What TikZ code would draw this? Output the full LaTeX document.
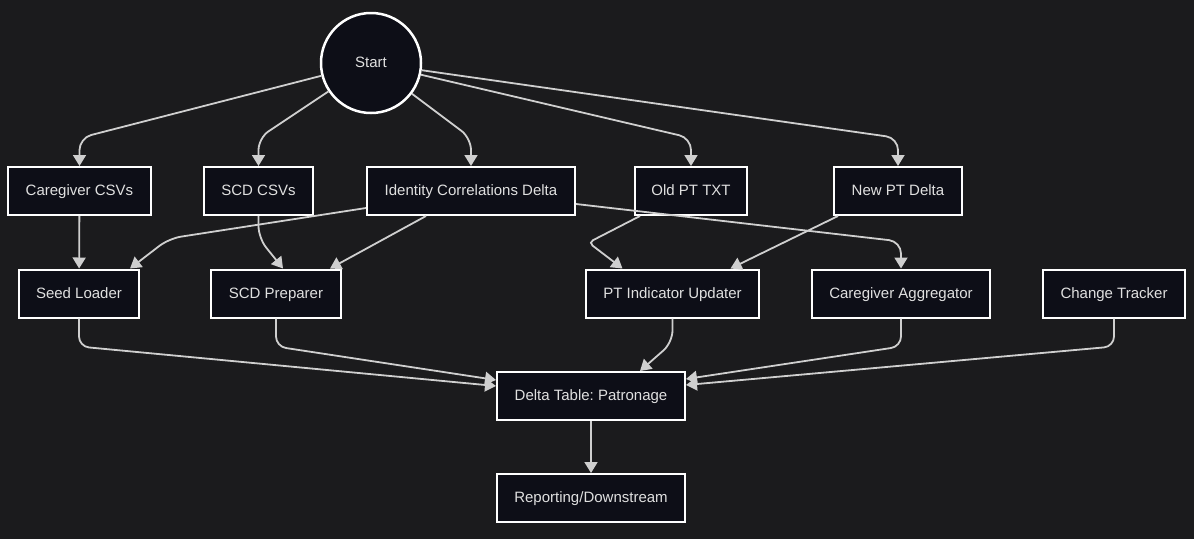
\documentclass[tikz,border=0pt]{standalone}
\usepackage{fontspec}
\setmainfont{Liberation Sans}
\usetikzlibrary{arrows.meta}
\definecolor{BG}{HTML}{1B1B1D}
\definecolor{NF}{HTML}{0D0E17}
\definecolor{LN}{HTML}{CFCFCF}
\definecolor{TX}{HTML}{E0E0E0}
\frenchspacing

\begin{document}
\begin{tikzpicture}[x=1pt,y=-1pt,
    box/.style={draw=white, line width=2pt, fill=NF, text=TX,
      minimum height=48pt, inner xsep=0pt, text height=11pt, text depth=2pt,
      font=\fontsize{15}{17}\selectfont},
    edge/.style={draw=LN, line width=1.8pt, rounded corners=12pt,
      -{Triangle[length=11pt,width=13pt]}}]
  \fill[BG] (0,0) rectangle (1194,539);
  % nodes
  \node[circle, draw=white, line width=2.5pt, fill=NF, text=TX, minimum size=100pt,
    text height=11pt, text depth=2pt, font=\fontsize{15}{17}\selectfont] (start) at (371,63) {Start};
  \node[box, minimum width=143pt] (cg) at (79.5,191) {Caregiver CSVs};
  \node[box, minimum width=109pt] (scd) at (258.5,191) {SCD CSVs};
  \node[box, minimum width=208pt] (ident) at (471,191) {Identity Correlations Delta};
  \node[box, minimum width=112pt] (oldpt) at (691,191) {Old PT TXT};
  \node[box, minimum width=128pt] (newpt) at (898,191) {New PT Delta};
  \node[box, minimum width=120pt] (seed) at (79,293.5) {Seed Loader};
  \node[box, minimum width=130pt] (scdprep) at (276,293.5) {SCD Preparer};
  \node[box, minimum width=173pt] (ptupd) at (672.5,293.5) {PT Indicator Updater};
  \node[box, minimum width=178pt] (cgagg) at (901,293.5) {Caregiver Aggregator};
  \node[box, minimum width=142pt] (ctrack) at (1114,293.5) {Change Tracker};
  \node[box, minimum width=188pt] (delta) at (591,396) {Delta Table: Patronage};
  \node[box, minimum width=188pt] (report) at (591,498) {Reporting/Downstream};
  % edges from start
  \foreach \n in {cg,scd,ident,oldpt,newpt}
    \draw[edge] (start) -- ([yshift=28pt]\n.north) -- (\n.north);
  % second row
  \draw[edge] (cg) -- (seed);
  \draw[edge] (scd.south) -- ([yshift=-22pt]scd.south) -- ([xshift=7pt]scdprep.north);
  \draw[edge] ([yshift=-17pt]ident.west) -- ([xshift=90pt,yshift=30pt]seed.north)
    -- ([xshift=51pt]seed.north);
  \draw[edge] ([xshift=-45pt]ident.south) -- ([xshift=54pt]scdprep.north);
  \draw[edge] ([yshift=-13pt]ident.east) -- ([yshift=27pt]cgagg.north) -- (cgagg.north);
  \draw[edge, rounded corners=5pt] ([xshift=-51pt]oldpt.south)
    -- ([xshift=-84pt,yshift=26pt]ptupd.north) -- ([xshift=-50pt]ptupd.north);
  \draw[edge] ([xshift=-60pt]newpt.south) -- ([xshift=58pt]ptupd.north);
  % into the delta table
  \foreach \n/\s in {seed/10pt,scdprep/16pt}
    \draw[edge, rounded corners=10pt] (\n.south) -- ([yshift=-28pt]\n.south)
      -- ([yshift=\s]delta.west);
  \foreach \n/\s in {cgagg/17pt,ctrack/11pt}
    \draw[edge, rounded corners=10pt] (\n.south) -- ([yshift=-28pt]\n.south)
      -- ([yshift=\s]delta.east);
  \draw[edge] (ptupd.south) -- ([yshift=-24pt]ptupd.south) -- ([xshift=49pt]delta.north);
  \draw[edge] (delta) -- (report);
\end{tikzpicture}
\end{document}
